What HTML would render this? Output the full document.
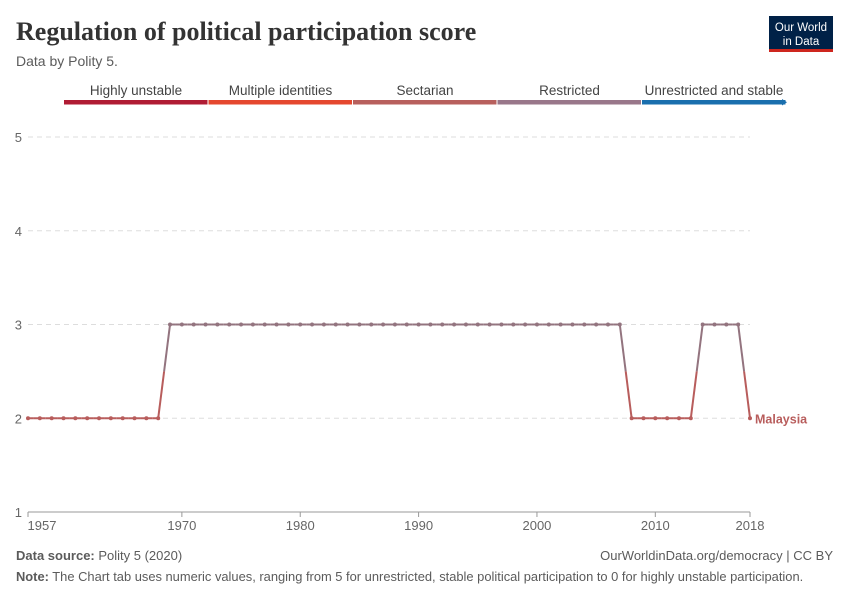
<!DOCTYPE html>
<html><head><meta charset="utf-8"><style>
body{margin:0;width:850px;height:600px;background:#fff;font-family:"Liberation Sans",sans-serif;overflow:hidden}
</style></head><body>
<svg width="850" height="600">
<text x="16" y="40" font-family="Liberation Serif,serif" font-size="26" font-weight="bold" fill="#333">Regulation of political participation score</text>
<text x="16" y="66" font-size="14" fill="#5b5b5b">Data by Polity 5.</text>
<g><rect x="769" y="16" width="64" height="36" fill="#002147"/><rect x="769" y="49" width="64" height="3" fill="#ce261e"/>
<text x="801" y="31" font-size="11.5" fill="#fff" text-anchor="middle">Our World</text><text x="801" y="45" font-size="11.5" fill="#fff" text-anchor="middle">in Data</text></g>
<g id="legend"></g>
<g id="grid"></g><g id="plot"></g>
<text x="16" y="560" font-size="13" fill="#5b5b5b"><tspan font-weight="bold">Data source:</tspan> Polity 5 (2020)</text>
<text x="833" y="560" font-size="13" fill="#5b5b5b" text-anchor="end">OurWorldinData.org/democracy | CC BY</text>
<text x="16" y="581" font-size="12.9" fill="#5b5b5b"><tspan font-weight="bold">Note:</tspan> The Chart tab uses numeric values, ranging from 5 for unrestricted, stable political participation to 0 for highly unstable participation.</text>
</svg>
<script>
const years=[];for(let y=1957;y<=2018;y++)years.push(y);
const values=[2,2,2,2,2,2,2,2,2,2,2,2,3,3,3,3,3,3,3,3,3,3,3,3,3,3,3,3,3,3,3,3,3,3,3,3,3,3,3,3,3,3,3,3,3,3,3,3,3,3,3,2,2,2,2,2,2,3,3,3,3,2];
const yTicks=[1,2,3,4,5];
const xTicks=[1957,1970,1980,1990,2000,2010,2018];
const legendLabels=["Highly unstable","Multiple identities","Sectarian","Restricted","Unrestricted and stable"];
const legendColors=["#b01c34","#e5482f","#b8605d","#99778a","#1a6fae"];
const NS="http://www.w3.org/2000/svg";
const X=y=>28+(y-1957)*(722/61);
const Y=v=>512-(v-1)*93.75;
const col=v=>v>=3?"#93747f":"#b85d5c";
function mk(t,a,p){const e=document.createElementNS(NS,t);for(const k in a)e.setAttribute(k,a[k]);p.appendChild(e);return e;}
const lg=document.getElementById('legend');
legendLabels.forEach((l,i)=>{const x0=64+i*144.5;
const r=mk('rect',{x:x0,y:100,width:143.5,height:4.5,fill:legendColors[i]},lg);


const t=mk('text',{x:x0+72,y:95,'font-size':13.5,fill:'#444','text-anchor':'middle'},lg);t.textContent=l;

});
mk('path',{d:'M782 99 L787 102.2 L782 105.5Z',fill:legendColors[4]},lg);
const g=document.getElementById('grid');
yTicks.forEach(v=>{mk('line',{x1:28,x2:750,y1:Y(v),y2:Y(v),stroke:'#ddd','stroke-dasharray':'5,4'},g);
const t=mk('text',{x:22,y:Y(v)+5,'font-size':13,fill:'#666','text-anchor':'end'},g);t.textContent=v;

});
mk('line',{x1:28,x2:750,y1:512,y2:512,stroke:'#999'},g);
xTicks.forEach(y=>{mk('line',{x1:X(y),x2:X(y),y1:512,y2:517,stroke:'#999'},g);
const t=mk('text',{x:X(y)+(y===1957?14:0),y:530,'font-size':13,fill:'#666','text-anchor':'middle'},g);t.textContent=y;

});
const p=document.getElementById('plot');
for(let i=0;i<years.length-1;i++){const x1=X(years[i]),x2=X(years[i+1]),y1=Y(values[i]),y2=Y(values[i+1]);
const mx=(x1+x2)/2,my=(y1+y2)/2;
mk('line',{x1:x1,y1:y1,x2:mx,y2:my,stroke:col(values[i]),'stroke-width':2},p);
mk('line',{x1:mx,y1:my,x2:x2,y2:y2,stroke:col(values[i+1]),'stroke-width':2},p);}
years.forEach((y,i)=>{const c=mk('circle',{cx:X(y),cy:Y(values[i]),r:2,fill:col(values[i])},p);

});
const lab=mk('text',{x:X(2018)+5,y:Y(values[values.length-1])+5,'font-size':12.5,fill:'#b85d5c','font-weight':'bold'},p);
lab.textContent='Malaysia';


</script>
</body></html>
